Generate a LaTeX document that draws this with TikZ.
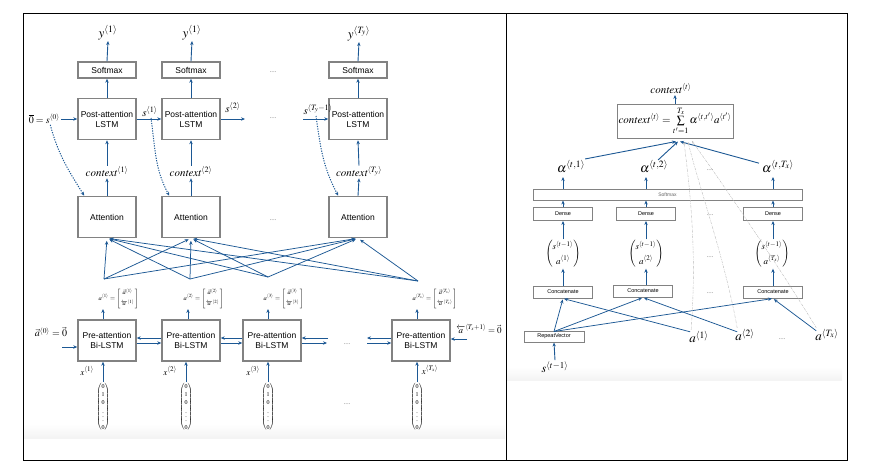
\documentclass[tikz,border=0pt]{standalone}
\usepackage{amsmath}
\usepackage{mathptmx}
\usepackage{fontspec}
\setmainfont{Liberation Serif}
\setsansfont{Liberation Sans}
\usetikzlibrary{arrows.meta,calc}
\definecolor{ablue}{RGB}{28,88,148}
\definecolor{bgray}{RGB}{130,130,130}
\newcommand{\avec}[1]{a^{\langle #1\rangle}=\left[\begin{array}{@{\,}c@{\,}}\vec{a}^{\langle #1\rangle}\\[3pt] \overleftarrow{a}^{\langle #1\rangle}\end{array}\right]}
\begin{document}
\begin{tikzpicture}[x=1pt,y=-1pt,
  lbox/.style={draw=bgray, line width=1.5pt, fill=white, minimum width=58pt, minimum height=41pt, inner sep=0pt, align=center, font=\sffamily\fontsize{8.5}{10}\selectfont},
  smbox/.style={lbox, minimum height=16pt},
  rbox/.style={draw=bgray, line width=1pt, fill=white, minimum width=59pt, minimum height=13pt, inner sep=0pt, font=\sffamily\fontsize{5.5}{6}\selectfont},
  arr/.style={draw=ablue, line width=0.9pt, -{Stealth[length=4pt,width=3.4pt]}},
  tarr/.style={arr, line width=0.75pt},
  dotarr/.style={arr, line width=1pt, dash pattern=on 1.2pt off 1.3pt},
  gline/.style={draw=gray!55, line width=0.4pt, dash pattern=on 2.5pt off 1pt on 0.6pt off 1pt, -{Stealth[length=2.5pt,width=2pt]}},
  lab/.style={inner sep=1pt, font=\fontsize{11}{12}\selectfont},
  biglab/.style={inner sep=1pt, font=\fontsize{13}{14}\selectfont},
  smlab/.style={inner sep=1pt, font=\fontsize{9}{10}\selectfont},
  alab/.style={inner sep=0.5pt, font=\fontsize{6.5}{7}\selectfont},
  ohvec/.style={inner sep=0pt, font=\fontsize{6}{7}\selectfont},
  rvec/.style={inner sep=0pt, font=\fontsize{9}{10}\selectfont},
  dotlab/.style={inner sep=0pt, font=\fontsize{7}{8}\selectfont, text=gray}
]
\useasboundingbox (0,0) rectangle (876,471);
% background bands and frame
\shade[top color=white, bottom color=gray!9] (24,424) rectangle (505,438);
\shade[top color=white, bottom color=gray!9] (507,367) rectangle (842,380);
\draw[line width=0.8pt] (23,13) rectangle (847,460);
\draw[line width=0.8pt] (506,13) -- (506,460);

% ================= LEFT PANEL =================
\node[smbox] (sm1) at (107,70) {Softmax};
\node[smbox] (sm2) at (191,70) {Softmax};
\node[smbox] (sm3) at (358,70) {Softmax};
\node[lbox] (po1) at (107,119) {Post-attention\\LSTM};
\node[lbox] (po2) at (191,119) {Post-attention\\LSTM};
\node[lbox] (po3) at (358,119) {Post-attention\\LSTM};
\node[lbox] (at1) at (107,217) {Attention};
\node[lbox] (at2) at (191,217) {Attention};
\node[lbox] (at3) at (358,217) {Attention};

\node[biglab, anchor=south] (y1) at (108,41) {$y^{\langle 1\rangle}$};
\node[biglab, anchor=south] (y2) at (192,41) {$y^{\langle 1\rangle}$};
\node[biglab, anchor=south] (y3) at (359,42) {$y^{\langle T_y\rangle}$};
\draw[arr] (sm1.north) -- (y1.south);
\draw[arr] (sm2.north) -- (y2.south);
\draw[arr] (sm3.north) -- (y3.south);
\draw[arr] (po1.north) -- (sm1.south);
\draw[arr] (po2.north) -- (sm2.south);
\draw[arr] (po3.north) -- (sm3.south);

\node[lab] (cx1) at (107,172) {$\mathit{context}^{\langle 1\rangle}$};
\node[lab] (cx2) at (191,172) {$\mathit{context}^{\langle 2\rangle}$};
\node[lab] (cx3) at (359,172) {$\mathit{context}^{\langle T_y\rangle}$};
\draw[arr] (at1.north) -- (cx1.south);
\draw[arr] (at2.north) -- (cx2.south);
\draw[arr] (at3.north) -- (cx3.south);
\draw[arr] (cx1.north) -- (po1.south);
\draw[arr] (cx2.north) -- (po2.south);
\draw[arr] (cx3.north) -- (po3.south);

% post-attention hidden states
\node[lab, anchor=east, font=\fontsize{10}{11}\selectfont] (s0) at (61,119) {$\overline{0} = s^{\langle 0\rangle}$};
\draw[arr] (s0.east) -- (po1.west);
\draw[arr] (po1.east) -- (po2.west);
\node[lab, anchor=south] (s1) at (150,118) {$s^{\langle 1\rangle}$};
\coordinate (s2end) at (245,119);
\draw[arr] (po2.east) -- (s2end);
\node[lab, anchor=south] (s2) at (233,114) {$s^{\langle 2\rangle}$};
\coordinate (s3start) at (303,119);
\draw[arr] (s3start) -- (po3.west);
\node[lab, anchor=south] (s3) at (318,116) {$s^{\langle T_y-1\rangle}$};

\draw[dotarr] ([xshift=6pt]s0.south) to[out=-75,in=122] ([xshift=7pt]at1.north west);
\draw[dotarr] ([xshift=1pt]s1.south) to[out=-82,in=118] ([xshift=8pt]at2.north west);
\draw[dotarr] ([xshift=-2pt]s3.south) to[out=-82,in=118] ([xshift=10pt]at3.north west);

\node[dotlab] at (273,72) {....};
\node[dotlab] at (273,118) {....};
\node[dotlab] at (273,220) {....};

% pre-attention Bi-LSTM
\node[lbox] (pr1) at (107,340.5) {Pre-attention\\Bi-LSTM};
\node[lbox] (pr2) at (191,340.5) {Pre-attention\\Bi-LSTM};
\node[lbox] (pr3) at (272,340.5) {Pre-attention\\Bi-LSTM};
\node[lbox] (pr4) at (421,340.5) {Pre-attention\\Bi-LSTM};

\draw[arr] ([yshift=2.5pt]pr2.west) -- ([yshift=2.5pt]pr1.east);
\draw[arr] ([yshift=-2.5pt]pr1.east) -- ([yshift=-2.5pt]pr2.west);
\draw[arr] ([yshift=2.5pt]pr3.west) -- ([yshift=2.5pt]pr2.east);
\draw[arr] ([yshift=-2.5pt]pr2.east) -- ([yshift=-2.5pt]pr3.west);
\coordinate (d1) at (328,338);
\coordinate (d2) at (327,343);
\draw[arr] (d1) -- (d1 -| pr3.east);
\draw[arr] (d2 -| pr3.east) -- (d2);
\coordinate (d3) at (367,338);
\coordinate (d4) at (367,343);
\draw[arr] (d3 -| pr4.west) -- (d3);
\draw[arr] (d4) -- (d4 -| pr4.west);
\node[dotlab] at (347,344) {....};
\node[dotlab] at (347,404) {....};

\node[lab, font=\fontsize{10}{11}\selectfont] (a0) at (51,332) {$\vec{a}^{\langle 0\rangle} = \vec{0}$};
\coordinate (a0e) at (62,347);
\draw[arr] (a0e) -- (a0e -| pr1.west);
\node[lab, font=\fontsize{9}{10}\selectfont] (aT) at (479,329) {$\overleftarrow{a}^{\langle T_x+1\rangle} = \vec{0}$};
\coordinate (aTe) at (467,339);
\draw[arr] (aTe) -- (aTe -| pr4.east);

% a labels above pre-attention
\node[alab, anchor=south west] (al1) at (98,309) {$\avec{1}$};
\node[alab, anchor=south west] (al2) at (183,309) {$\avec{2}$};
\node[alab, anchor=south west] (al3) at (263,309) {$\avec{3}$};
\node[alab, anchor=south west] (al4) at (412,309) {$\avec{T_x}$};
\draw[arr] ([xshift=-4pt]pr1.north) -- ([xshift=-4pt]pr1.north |- al1.south);
\draw[arr] ([xshift=-3pt]pr2.north) -- ([xshift=-3pt]pr2.north |- al2.south);
\draw[arr] ([xshift=-4pt]pr3.north) -- ([xshift=-4pt]pr3.north |- al3.south);
\draw[arr] ([xshift=-4pt]pr4.north) -- ([xshift=-4pt]pr4.north |- al4.south);

\coordinate (av1) at (104,279);
\coordinate (av2) at (190,279);
\coordinate (av3) at (268,277);
\coordinate (av4) at (418,281);
\foreach \i in {1,2,3,4}{
  \foreach \j in {1,2,3}{
    \draw[tarr, shorten >=2.5pt] (av\i) -- (at\j.south);
  }
}

% inputs
\node[ohvec] (v1) at (103,407) {$\renewcommand\arraystretch{1.15}\begin{pmatrix}0\\1\\0\\\vdots\\0\end{pmatrix}$};
\node[ohvec] (v2) at (186,407) {$\renewcommand\arraystretch{1.15}\begin{pmatrix}0\\1\\0\\\vdots\\0\end{pmatrix}$};
\node[ohvec] (v3) at (268,407) {$\renewcommand\arraystretch{1.15}\begin{pmatrix}0\\1\\0\\\vdots\\0\end{pmatrix}$};
\node[ohvec] (v4) at (417,407) {$\renewcommand\arraystretch{1.15}\begin{pmatrix}0\\1\\0\\\vdots\\0\end{pmatrix}$};
\draw[arr] (v1.north) -- (v1.north |- pr1.south);
\draw[arr] (v2.north) -- (v2.north |- pr2.south);
\draw[arr] (v3.north) -- (v3.north |- pr3.south);
\draw[arr] (v4.north) -- (v4.north |- pr4.south);
\node[smlab] (x1) at (87,371) {$x^{\langle 1\rangle}$};
\node[smlab] (x2) at (170,371) {$x^{\langle 2\rangle}$};
\node[smlab] (x3) at (253,371) {$x^{\langle 3\rangle}$};
\node[smlab] (x4) at (430,370) {$x^{\langle T_x\rangle}$};

% ================= RIGHT PANEL =================
\node[rbox, minimum width=116pt, minimum height=34pt, font=\fontsize{11}{12}\selectfont] (ctx) at (675,121)
  {$\mathit{context}^{\langle t\rangle} = \sum\limits_{t'=1}^{T_x}\alpha^{\langle t,t'\rangle}a^{\langle t'\rangle}$};
\node[lab, anchor=south] (ctxl) at (671,95) {$\mathit{context}^{\langle t\rangle}$};
\draw[arr] (ctx.north) -- (ctx.north |- ctxl.south);

\node[rbox, minimum width=269pt, minimum height=11pt, text=gray!80!black, font=\sffamily\fontsize{5}{6}\selectfont] (bar) at (667.5,194.5) {Softmax};

\node[biglab, anchor=base west, inner sep=0pt] (alp1) at (557,172) {$\alpha^{\langle t,1\rangle}$};
\node[biglab, anchor=base west, inner sep=0pt] (alp2) at (640,172) {$\alpha^{\langle t,2\rangle}$};
\node[biglab, anchor=base west, inner sep=0pt] (alp3) at (762,172) {$\alpha^{\langle t,T_x\rangle}$};
\coordinate (b1) at (563,177);
\coordinate (b2) at (646,177);
\coordinate (b3) at (773,177);
\draw[arr] (b1 |- bar.north) -- (b1);
\draw[arr] (b2 |- bar.north) -- (b2);
\draw[arr] (b3 |- bar.north) -- (b3);
\coordinate (cv1) at (676,141.5);
\coordinate (cv2) at (678,141.5);
\coordinate (cv3) at (680,141.5);
\draw[arr] ([yshift=1pt]alp1.north east) -- (cv1);
\draw[arr] ([xshift=4pt]alp2.north) -- (cv2);
\draw[arr] ([xshift=-3pt,yshift=3pt]alp3.west) -- (cv3);

\node[rbox] (de1) at (563,214) {Dense};
\node[rbox] (de2) at (646,214) {Dense};
\node[rbox] (de3) at (773,214) {Dense};
\draw[arr] (de1.north) -- (de1.north |- bar.south);
\draw[arr] (de2.north) -- (de2.north |- bar.south);
\draw[arr] (de3.north) -- (de3.north |- bar.south);

\node[rvec] (rv1) at (563,254) {$\renewcommand\arraystretch{1.45}\begin{pmatrix}s^{\langle t-1\rangle}\\ a^{\langle 1\rangle}\end{pmatrix}$};
\node[rvec] (rv2) at (646,254) {$\renewcommand\arraystretch{1.45}\begin{pmatrix}s^{\langle t-1\rangle}\\ a^{\langle 2\rangle}\end{pmatrix}$};
\node[rvec] (rv3) at (772,254) {$\renewcommand\arraystretch{1.45}\begin{pmatrix}s^{\langle t-1\rangle}\\ a^{\langle T_x\rangle}\end{pmatrix}$};
\draw[arr] (rv1.north) -- (de1.south);
\draw[arr] (rv2.north) -- (de2.south);
\draw[arr] (rv3.north -| de3.south) -- (de3.south);

\node[rbox, minimum height=12pt] (cc1) at (563,292) {Concatenate};
\node[rbox, minimum height=12pt] (cc2) at (643,291) {Concatenate};
\node[rbox, minimum height=12pt] (cc3) at (773,292) {Concatenate};
\draw[arr] (cc1.north) -- (rv1.south);
\draw[arr] (cc2.north -| rv2.south) -- (rv2.south);
\draw[arr] (cc3.north) -- (cc3.north |- rv3.south);

\node[rbox, minimum width=60pt, minimum height=11pt] (rep) at (554,336.5) {RepeatVector};
\node[biglab, font=\fontsize{12}{13}\selectfont] (sp) at (555,367) {$s^{\langle t-1\rangle}$};
\draw[arr] (sp.north) -- (rep.south);

\node[biglab] (ra1) at (699,337) {$a^{\langle 1\rangle}$};
\node[biglab] (ra2) at (745,335) {$a^{\langle 2\rangle}$};
\node[biglab] (ra3) at (827,335) {$a^{\langle T_x\rangle}$};
\node[dotlab] at (782,339) {....};

\draw[tarr, shorten >=1pt] ([yshift=-1pt]rep.north) -- (cc1.south);
\draw[tarr, shorten >=1pt] ([yshift=-1pt]rep.north) -- (cc2.south);
\draw[tarr, shorten >=1pt] ([yshift=-1pt]rep.north) -- (cc3.south);
\draw[tarr, shorten >=1pt] ([xshift=2pt,yshift=-2pt]ra1.north west) -- (cc1.south);
\draw[tarr, shorten >=1pt] ([xshift=3pt,yshift=-4pt]ra2.north west) -- (cc2.south);
\draw[tarr, shorten >=1pt] ([xshift=2pt,yshift=-3pt]ra3.north west) -- (cc3.south);

\draw[gline] ([xshift=3pt]ra1.north west) .. controls (697,250) and (690,190) .. (684,142);
\draw[gline] ([xshift=3pt]ra2.north west) .. controls (725,260) and (700,190) .. (688,142);
\draw[gline] ([xshift=2pt]ra3.north west) .. controls (775,260) and (720,180) .. (692,141);

\node[dotlab] at (710,170) {....};
\node[dotlab] at (710,215) {....};
\node[dotlab] at (710,257) {....};
\node[dotlab] at (710,293) {....};
\end{tikzpicture}
\end{document}
